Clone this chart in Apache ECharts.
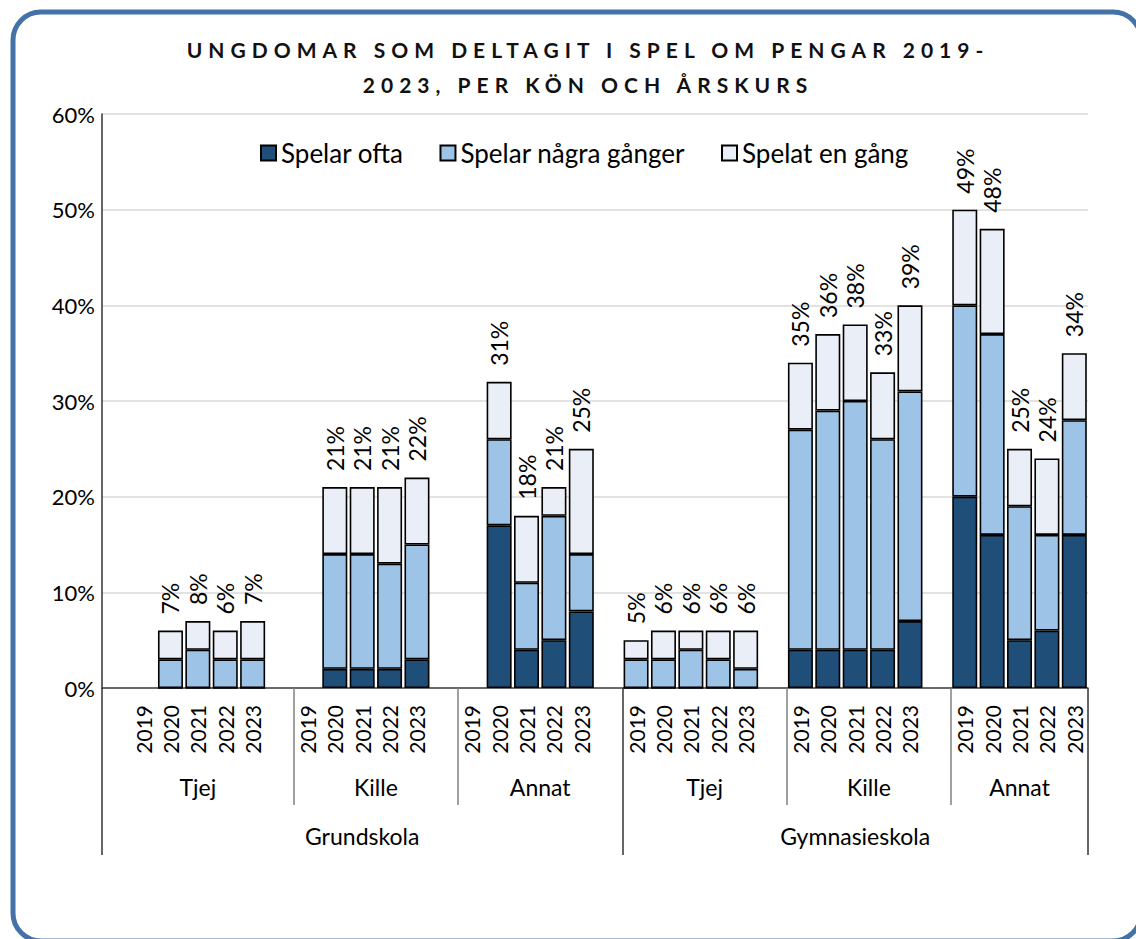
<!DOCTYPE html>
<html>
<head>
<meta charset="utf-8">
<script src="https://cdn.jsdelivr.net/npm/echarts@6/dist/echarts.min.js"></script>
<style>
  html, body { margin: 0; padding: 0; background: #fff; }
  #chart { width: 1136px; height: 939px; }
  /* the title is the only bold text; the original uses wide character spacing */
  #chart text[style*="bold"] { letter-spacing: 6px; }
</style>
</head>
<body>
<div id="chart"></div>
<script>
const schools = ["Grundskola", "Gymnasieskola"];
const genders = ["Tjej", "Kille", "Annat"];
const years = ["2019", "2020", "2021", "2022", "2023"];

// order: school -> gender -> year, null where there is no data
const spelarOfta = [
  null, 0, 0, 0, 0,
  null, 2, 2, 2, 3,
  null, 17, 4, 5, 8,
  0, 0, 0, 0, 0,
  4, 4, 4, 4, 7,
  20, 16, 5, 6, 16,
];
const spelarNagra = [
  null, 3, 4, 3, 3,
  null, 12, 12, 11, 12,
  null, 9, 7, 13, 6,
  3, 3, 4, 3, 2,
  23, 25, 26, 22, 24,
  20, 21, 14, 10, 12,
];
const spelatEn = [
  null, 3, 3, 3, 4,
  null, 7, 7, 8, 7,
  null, 6, 7, 3, 11,
  2, 3, 2, 3, 4,
  7, 8, 8, 7, 9,
  10, 11, 6, 8, 7,
];
// totals printed above the bars
const totalLabels = [
  null, 7, 8, 6, 7,
  null, 21, 21, 21, 22,
  null, 31, 18, 21, 25,
  5, 6, 6, 6, 6,
  35, 36, 38, 33, 39,
  49, 48, 25, 24, 34,
];

const yMax = 60;
const yStep = 10;

// category slots: an empty slot before the first group and after every group but the last
const slotYears = [""];
const dataSlots = [];
const genderBounds = [0];
const genderNames = [];
const schoolBounds = [0];
schools.forEach((school, si) => {
  genders.forEach((gender, gi) => {
    years.forEach((y) => {
      dataSlots.push(slotYears.length);
      slotYears.push(y);
    });
    const last = si === schools.length - 1 && gi === genders.length - 1;
    if (!last) slotYears.push("");
    genderBounds.push(slotYears.length);
    genderNames.push(gender);
  });
  schoolBounds.push(slotYears.length);
});
const slotCount = slotYears.length;
const genderCenters = genderNames.map((_, i) => (genderBounds[i] + genderBounds[i + 1]) / 2);
const schoolCenters = schools.map((_, i) => (schoolBounds[i] + schoolBounds[i + 1]) / 2);
const genderSeparators = genderBounds.filter((b) => !schoolBounds.includes(b));

function pad(values) {
  const out = slotYears.map(() => "-");
  dataSlots.forEach((slot, i) => {
    out[slot] = values[i] == null ? "-" : values[i];
  });
  return out;
}
const paddedTotals = pad(totalLabels);

const barBorder = { borderColor: "#000", borderWidth: 1.6 };

const chart = echarts.init(document.getElementById("chart"), null, { renderer: "svg" });

const option = {
  animation: false,
  backgroundColor: "#fff",
  textStyle: { fontFamily: "Lato", color: "#000" },
  title: {
    text: "UNGDOMAR SOM DELTAGIT I SPEL OM PENGAR 2019-\n2023, PER KÖN OCH ÅRSKURS",
    left: 583,
    top: 27,
    textAlign: "center",
    textStyle: {
      fontFamily: "Lato",
      fontSize: 21,
      fontWeight: "bold",
      lineHeight: 35,
      color: "#111",
    },
  },
  legend: {
    top: 135,
    left: 255,
    icon: "rect",
    itemWidth: 15,
    itemHeight: 15,
    itemGap: 36,
    textStyle: { fontSize: 26, color: "#000", fontFamily: "Lato" },
  },
  grid: { left: 102, right: 48, top: 114, bottom: 251, outerBoundsMode: "none" },
  yAxis: {
    type: "value",
    min: 0,
    max: yMax,
    interval: yStep,
    axisLine: { show: true, lineStyle: { color: "#333", width: 1.5 } },
    axisTick: { show: false },
    axisLabel: { formatter: "{value}%", fontSize: 22, margin: 7, color: "#000" },
    splitLine: { lineStyle: { color: "#d9d9d9", width: 1.5 } },
  },
  xAxis: [
    {
      type: "category",
      data: slotYears,
      axisLine: { lineStyle: { color: "#404040", width: 1.5 } },
      axisTick: { show: false },
      axisLabel: { interval: 0, rotate: 90, margin: 17, fontSize: 21, color: "#000" },
      splitLine: { show: false },
    },
    {
      type: "value",
      position: "bottom",
      min: 0,
      max: slotCount,
      axisLine: { show: false },
      splitLine: { show: false },
      axisTick: {
        show: true,
        customValues: genderSeparators,
        length: 117,
        lineStyle: { color: "#808080", width: 1.5 },
      },
      axisLabel: {
        customValues: genderCenters,
        formatter: (v) => genderNames[genderCenters.indexOf(v)] || "",
        margin: 87,
        fontSize: 23,
        color: "#000",
      },
    },
    {
      type: "value",
      position: "bottom",
      min: 0,
      max: slotCount,
      axisLine: { show: false },
      splitLine: { show: false },
      axisTick: {
        show: true,
        customValues: schoolBounds,
        length: 167,
        lineStyle: { color: "#333", width: 1.5 },
      },
      axisLabel: {
        customValues: schoolCenters,
        formatter: (v) => schools[schoolCenters.indexOf(v)] || "",
        margin: 136,
        fontSize: 23,
        color: "#000",
      },
    },
  ],
  series: [
    {
      name: "Spelar ofta",
      type: "bar",
      stack: "total",
      barWidth: 25,
      data: pad(spelarOfta),
      itemStyle: { color: "#1f4e79", ...barBorder },
    },
    {
      name: "Spelar några gånger",
      type: "bar",
      stack: "total",
      barWidth: 25,
      data: pad(spelarNagra),
      itemStyle: { color: "#9dc3e6", ...barBorder },
    },
    {
      name: "Spelat en gång",
      type: "bar",
      stack: "total",
      barWidth: 25,
      data: pad(spelatEn),
      itemStyle: { color: "#e9eef7", ...barBorder },
      label: {
        show: true,
        position: "top",
        distance: 16,
        rotate: 90,
        align: "left",
        verticalAlign: "middle",
        fontSize: 23,
        color: "#000",
        formatter: (p) => paddedTotals[p.dataIndex] + "%",
      },
    },
  ],
  graphic: [
    {
      type: "rect",
      silent: true,
      z: -1,
      shape: { x: 13, y: 12, width: 1128, height: 929, r: 28 },
      style: { fill: "none", stroke: "#4472a8", lineWidth: 5 },
    },
  ],
};

chart.setOption(option);
</script>
</body>
</html>
